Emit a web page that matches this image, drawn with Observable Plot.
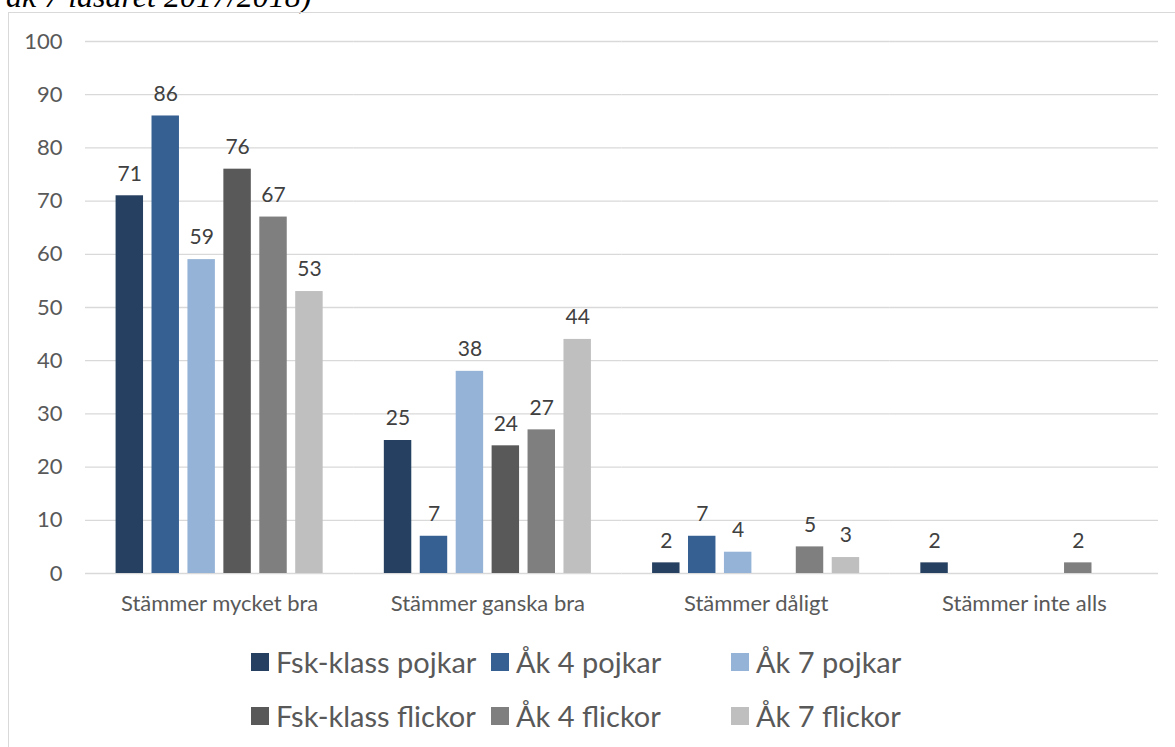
<!DOCTYPE html>
<html>
<head>
<meta charset="utf-8">
<script src="https://cdn.jsdelivr.net/npm/d3@7"></script>
<script src="https://cdn.jsdelivr.net/npm/@observablehq/plot@0.6"></script>
<style>
  html, body { margin: 0; padding: 0; background: #fff; width: 1175px; height: 747px; overflow: hidden; position: relative; }
  #title { position: absolute; left: 6px; top: -20px; font-family: "Liberation Serif", serif; font-style: italic; font-size: 32px; line-height: 32px; color: #000; white-space: nowrap; }
  #frame { position: absolute; left: 8px; top: 12px; width: 1300px; height: 900px; border: 1px solid #d9d9d9; box-sizing: border-box; }
  #chart { position: absolute; left: 0; top: 0; }
  .leg { position: absolute; display: flex; align-items: center; height: 30px; font-family: Lato, sans-serif; font-size: 29px; line-height: 30px; color: #595959; white-space: nowrap; }
  .leg .sw { width: 18px; height: 18px; margin-right: 7px; flex: none; }
</style>
</head>
<body>
<div id="title">åk 7 läsåret 2017/2018)</div>
<div id="frame"></div>
<div id="chart"></div>
<div id="legend"></div>
<script>
const categories = ["Stämmer mycket bra", "Stämmer ganska bra", "Stämmer dåligt", "Stämmer inte alls"];
const seriesNames = ["Fsk-klass pojkar", "Åk 4 pojkar", "Åk 7 pojkar", "Fsk-klass flickor", "Åk 4 flickor", "Åk 7 flickor"];
const fskPojkar  = [71, 25, 2, 2];
const ak4Pojkar  = [86, 7, 7, null];
const ak7Pojkar  = [59, 38, 4, null];
const fskFlickor = [76, 24, null, null];
const ak4Flickor = [67, 27, 5, 2];
const ak7Flickor = [53, 44, 3, null];
const seriesColors = ["#264061", "#366092", "#95B3D7", "#595959", "#7F7F7F", "#BFBFBF"];
const yTicks = [0, 10, 20, 30, 40, 50, 60, 70, 80, 90, 100];

const seriesValues = [fskPojkar, ak4Pojkar, ak7Pojkar, fskFlickor, ak4Flickor, ak7Flickor];
const data = [];
categories.forEach((c, i) => {
  seriesNames.forEach((s, j) => {
    const v = seriesValues[j][i];
    if (v != null) data.push({category: c, series: s, value: v});
  });
});

const W = 1175, mL = 85, mR = 17;
const fxPad = 0.228;
const step = (W - mL - mR) / categories.length;
const half = fxPad * step / 2;

const chart = Plot.plot({
  width: W,
  height: 620,
  marginLeft: mL,
  marginRight: mR,
  marginTop: 41,
  marginBottom: 47,
  style: {fontFamily: "Lato, sans-serif", fontSize: "22px", color: "#595959", background: "transparent", overflow: "visible"},
  fx: {domain: categories, paddingInner: fxPad, paddingOuter: fxPad / 2, round: false, axis: "bottom", tickSize: 0, tickPadding: 22, label: null},
  x: {domain: seriesNames, paddingInner: 0.236, paddingOuter: 0, round: false, axis: null},
  y: {domain: [0, 100], ticks: yTicks, tickSize: 0, tickPadding: 23 + half, label: null, axis: "left"},
  color: {domain: seriesNames, range: seriesColors},
  marks: [
    Plot.ruleY(yTicks, {stroke: "#d9d9d9", strokeWidth: 1.3, insetLeft: -half, insetRight: -half}),
    Plot.barY(data, {fx: "category", x: "series", y: "value", fill: "series"}),
    Plot.text(data, {fx: "category", x: "series", y: "value", text: d => String(d.value), dy: -22, fill: "#404040", fontSize: 21})
  ]
});
document.getElementById("chart").appendChild(chart);

const legend = document.getElementById("legend");
const colX = [251, 491, 731];
const rowY = [647, 701];
seriesNames.forEach((s, j) => {
  const item = document.createElement("div");
  item.className = "leg";
  item.style.left = colX[j % 3] + "px";
  item.style.top = rowY[Math.floor(j / 3)] + "px";
  const sw = document.createElement("span");
  sw.className = "sw";
  sw.style.background = seriesColors[j];
  item.appendChild(sw);
  item.appendChild(document.createTextNode(s));
  legend.appendChild(item);
});
</script>
</body>
</html>
